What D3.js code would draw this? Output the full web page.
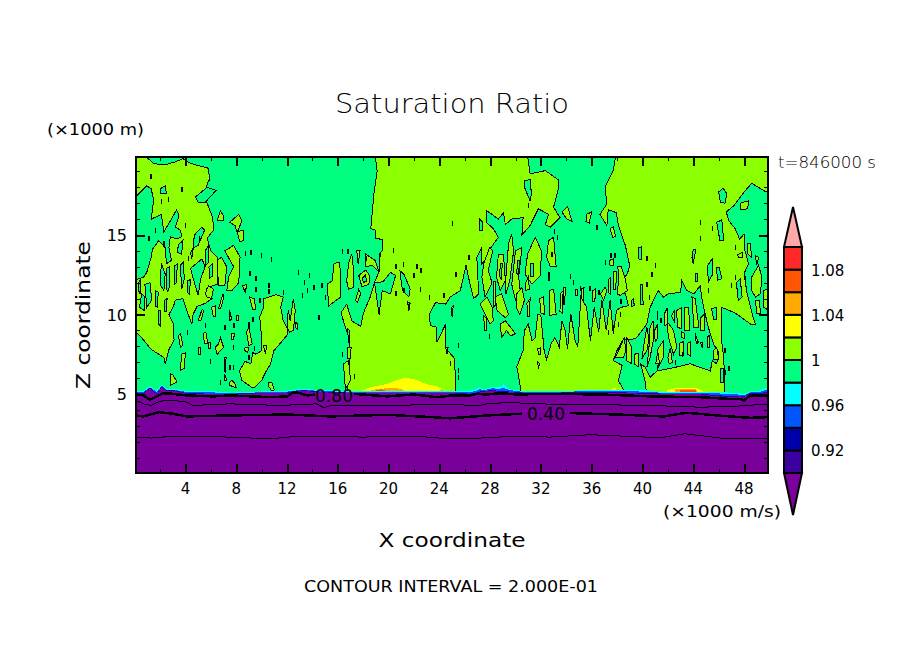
<!DOCTYPE html>
<html>
<head>
<meta charset="utf-8">
<script src="https://cdn.jsdelivr.net/npm/d3@7"></script>
<style>
  html, body { margin: 0; background: #fff; }
  text { font-family: "DejaVu Sans", sans-serif; fill: #000; }
</style>
</head>
<body>
<svg id="chart" width="904" height="654"></svg>
<script>
/* tick values */
const xMajor = [4, 8, 12, 16, 20, 24, 28, 32, 36, 40, 44, 48];
const xMinor = [2, 6, 10, 14, 18, 22, 26, 30, 34, 38, 42, 46];
const zMajor = [5, 10, 15];
const zMinor = [1, 2, 3, 4, 6, 7, 8, 9, 11, 12, 13, 14, 16, 17, 18, 19];

/* colour bar */
const levels = [0.90, 0.92, 0.94, 0.96, 0.98, 1.00, 1.02, 1.04, 1.06, 1.08, 1.10];
const levelColors = ['#3A00A0', '#0000AA', '#0055FF', '#00FFFF', '#00FF80', '#8CFF00', '#FFFF00', '#FFAA00', '#FF5500', '#FF2828'];
const levelLabels = [0.92, 0.96, 1.00, 1.04, 1.08];

/* saturated (1.00-1.02) regions, [x, z] */
const limeLeft = [[-1,21],[1,21],[1,19.85],[1.5,19.5],[2.3,19.4],[3.2,19.6],[3.8,19.8],[4.4,19.5],[5.8,19.2],[5.9,18.5],[5.7,18.2],[5.6,17.2],[5.9,16.6],[6.15,16.1],[6.2,15.3],[5.7,14.8],[6,14],[6.5,13.6],[6.5,11.9],[5.7,11.7],[5.6,11.3],[6.1,11],[5.55,10.7],[4.9,10.5],[4.6,10],[4.5,9.4],[4.1,10.25],[3.8,11],[3.2,10.9],[3.05,10.5],[2.7,10],[3.05,9.4],[3.1,8.4],[2.7,7.8],[2.4,6.9],[2.3,7.3],[1.3,7.8],[0.7,8.4],[0.1,8.9],[-1,8.9]];
const limeCenter = [[18.85,20.5],[19.1,19.05],[18.85,17.6],[18.7,16.3],[18.6,15.4],[18.95,15.3],[19,14.8],[19.55,14.7],[19.5,14],[19.25,13.8],[19.3,12.75],[18.95,12.15],[18.55,11.1],[18,10.05],[17.8,9.25],[17.1,9.6],[16.7,10.65],[16.25,10.1],[16.6,9.2],[16.9,8.55],[16.95,7.3],[16.8,5.65],[16.8,4.5],[25.3,4.5],[25.3,5.85],[25.15,7.3],[24.5,7.85],[24.5,9.4],[23.8,8.25],[23.8,9.2],[23.3,9.3],[23.2,10],[23.7,10.75],[24.5,10.65],[24.85,11.1],[25.65,11.5],[26.1,13.1],[26.35,12.15],[26.7,11],[27.1,11.3],[26.95,13.6],[27.35,14.2],[27.35,13.2],[27.6,13.4],[28.05,14.2],[28.65,14.85],[28.25,15.4],[27.7,15.8],[27.7,16.55],[28.65,16],[29.05,16.4],[29.2,15.65],[29.7,16],[30.6,16.1],[30.5,15],[31.15,15.6],[31.8,16.65],[32.6,16.3],[32.35,15.65],[32.75,15.5],[33.5,16.1],[33,16.75],[33.4,18],[33.4,18.45],[32.35,19.05],[31.15,18.85],[30.85,20.5]];
const limeRight = [[38,20.5],[51,20.5],[51,17.7],[49.65,17.75],[48.6,18.25],[48,17.7],[47.2,16.85],[46.6,16.45],[46.8,15.9],[47.3,15.4],[47.65,14.75],[48,15.05],[48.05,14.1],[48.35,13.2],[48,12.55],[48.25,11.3],[48.65,10],[48.9,9.4],[48.6,9.35],[47.3,10.1],[46.25,10.45],[46.2,8.55],[46.4,7.3],[46.5,5.3],[46.5,4.5],[30.4,4.5],[30.35,5.65],[30.1,6.7],[30.6,7.75],[30.7,9],[31,9.4],[31.3,8.35],[31.55,8.55],[31.75,10],[32,9.95],[32.25,7.75],[32.45,7.15],[32.8,8.15],[33.1,8.55],[33.45,7.95],[33.65,9.6],[33.9,9],[34.1,7.85],[34.35,10.05],[34.7,8.35],[34.9,7.95],[35.15,11.1],[35.6,10.45],[35.9,8.35],[36.2,10.45],[36.55,8.9],[36.8,10.9],[37.15,9],[37.45,10.9],[37.7,8.8],[37.95,10.25],[38.3,10.45],[38.9,10.55],[38.65,11.3],[38.1,11.9],[38.8,12.55],[39,13.05],[38.65,14.35],[38.1,15.6],[37.95,16.4],[37.3,16.6],[37.2,15.6],[36.65,16.3],[37.2,16.95],[37.05,18],[37.7,19.05]];

/* unsaturated pockets inside those regions */
const greenPockets = [
  [[-1,17.1],[0.2,17.5],[0.95,18.1],[1.3,17.9],[1.5,17.2],[1.3,16],[2.1,16.3],[2.3,15.2],[2.9,16],[3.3,16.6],[3.5,16.2],[3.2,15.5],[3.6,15.3],[3.7,14.9],[3.3,14.75],[2.8,14.9],[2.7,14.2],[2.9,13.4],[2.5,13.2],[2.4,14.2],[1.9,14.65],[1.4,14.1],[1.3,13.6],[0.95,12.65],[0.7,12.35],[0.15,12.2],[-1,12.2]],
  [[4.8,17.4],[5.7,18],[6.4,17.8],[5.55,17.05],[5,17.05]],
  [[2,17.9],[2.4,18.1],[2.5,17.6],[2.05,17.6]],
  [[4.7,15],[5.3,15.5],[5.5,15.3],[5,14.35],[4.6,14.2]],
  [[3.45,14.4],[3.8,14.65],[3.7,13.8],[3.35,13.9]],
  [[4.4,12.9],[5.3,13.5],[5.55,13],[5.2,12.25],[5,11.2],[4.7,12]],
  [[2.1,13.2],[2.4,12.55],[2.3,11.5],[2,11.9]],
  [[1.6,11.5],[1.85,11.4],[1.8,10.45],[1.6,10.55]],
  [[0.8,11.9],[1.2,12],[1.35,10.9],[0.95,10.45]],
  [[0.37,10.45],[0.55,11.3],[0.8,11.1],[0.75,10.25]],
  [[1.85,10.25],[2.05,10.25],[2,9.3],[1.85,9.4]],
  [[0.3,12],[0.45,12.2],[0.5,11.3],[0.35,11.3]],
  [[2.5,12.9],[2.75,13],[2.7,11.6],[2.55,11.4]],
  [[3.15,13.05],[3.35,13.2],[3.3,12],[3.15,11.9]],
  [[2.35,10.9],[2.55,11],[2.5,10.2],[2.35,10.2]],
  [[3.6,13.1],[3.85,13.3],[3.9,12.2],[3.7,11.6]],
  [[4.15,12.1],[4.4,12.2],[4.3,11.3],[4.15,11.4]],
  [[5.55,14],[5.8,14.3],[5.85,13.3],[5.6,13.1]],
  [[5.85,13],[6.1,13.2],[6.1,12.4],[5.9,12.3]],
  [[4.4,13.9],[4.6,14.1],[4.5,13.5]],
  [[18.9,12],[19.25,10],[19.5,11.5],[20.15,11.3],[20.55,12.45],[20.15,12.65],[19.6,12.1],[19.25,12]],
  [[20.9,12.75],[21.2,12.55],[21.7,11.6],[21.6,11.1],[21.1,11.5],[20.95,12.3]],
  [[21.5,10.8],[21.7,10.7],[21.6,10.25]],
  [[16.75,9.1],[16.9,9],[16.9,8.1]],
  [[27.2,16],[27.4,15.8],[27.4,15.3],[27.2,15.3]],
  [[38.55,4.5],[38.55,5.2],[38.1,5.85],[38.4,6.8],[37.7,7.1],[38,7.75],[38.5,8.45],[39.25,8.45],[39.55,8.55],[40.35,9.4],[40.6,10.45],[41.25,11.5],[41.65,11.1],[42.05,11.3],[43,11.4],[43.1,12.15],[43.5,11.5],[44.05,11.3],[44.55,11.8],[44.7,10.9],[45.15,9.3],[45.6,8.15],[46,7.6],[45.85,6.9],[45.5,7.1],[45.35,6.45],[43.75,6.9],[42.7,6.7],[41.15,6.45],[40.6,6.05],[40.2,6.7],[39.85,6.9],[40.2,5.85],[40.3,5.2],[40.3,4.5]],
  [[30.7,18.4],[31.15,18.5],[31.25,17.6],[31.15,17.15],[30.75,17.9]],
  [[46,17.7],[46.35,17.95],[46.65,17.6],[46.5,17],[46.15,17.05]],
  [[45.85,15.8],[46.25,15.95],[46.4,14.65],[46.1,14.65]],
  [[39.7,14.2],[39.9,14.25],[39.9,13.45],[39.7,13.5]],
  [[45.1,13.05],[45.5,13.5],[45.55,12.55],[45.2,12.05]],
  [[45.85,12.95],[46.05,12.95],[46.25,12.25],[45.9,12.15]],
  [[44,14.1],[44.2,14.1],[44,13.2],[43.9,13.6]],
  [[44.15,12.55],[44.3,12.55],[44.3,12.05],[44.15,12.05]],
  [[39.85,11.9],[40,11.9],[40.05,10.65],[39.85,10.65]],
  [[39.15,10.9],[39.3,11],[39.35,10.55],[39.15,10.5]],
  [[47.4,12],[47.7,12.25],[47.85,11.1],[47.55,10.9]],
  [[46.15,6.6],[46.35,6.6],[46.35,5.75],[46.15,5.75]],
  [[45.45,10.35],[45.8,10.45],[45.8,9.7],[45.6,9.7]]
];

/* saturated islands in the unsaturated air */
const limeIslands = [
  [[6.5,15.9],[6.75,16.5],[7,16.2],[7,15.9]],
  [[7.5,15.8],[8.2,16.3],[8.45,15.9],[8.1,15.2],[8.55,15.3],[8.55,14.65],[8.3,14.55],[7.9,15.6]],
  [[6.5,13.4],[6.85,13.6],[7.25,13],[7.1,11.8],[6.6,11.8]],
  [[7.1,14],[7.8,14.35],[8.3,13.6],[8.2,12],[7.65,11.5],[7.25,11.5],[7.4,12.35],[7.8,13]],
  [[5.55,11.3],[5.8,11.8],[6.2,11.6],[6.05,11],[5.7,11.1]],
  [[9.05,11.1],[9.4,11],[9.55,10.35],[9.3,10.3]],
  [[8.5,11.8],[8.85,11.9],[8.7,11.4]],
  [[6.6,10.35],[6.95,11.3],[7,11],[6.75,10.35]],
  [[6.05,10.45],[6.35,10.55],[6.4,9.85],[6.2,9.85]],
  [[5,9.6],[5.3,10.3],[5.45,10.25],[5.2,9.6]],
  [[3.45,8.65],[3.6,8.8],[3.8,8.05],[3.6,7.95]],
  [[5,7.95],[5.2,7.95],[5.2,7.5],[5.05,7.5]],
  [[5.4,8.8],[5.6,8.9],[5.75,8.2],[5.5,8.15]],
  [[6.35,7.95],[6.6,8.15],[6.75,8.55],[7,7.95],[6.5,7.5]],
  [[8.8,8.9],[9,9.2],[9.25,8.15],[9,8.05]],
  [[10.15,11],[10.6,11.1],[11.15,11.25],[11.7,11.1],[11.5,10.45],[11.7,9.6],[12.05,9.1],[12,8.7],[10.95,7.7],[10.7,6.9],[10.3,6.35],[10,5.85],[9.5,5.45],[9.25,5.4],[8.45,5.85],[8.25,6.45],[8.7,7.05],[9.15,6.9],[9.3,7.6],[9.55,7.5],[9.95,7.7],[10,8.55],[9.9,9.4],[9.85,9.85],[10.15,10.45]],
  [[12.05,9.85],[12.1,10.3],[12.25,9.6],[12.5,11],[12.65,10.25],[12.5,9],[12.2,8.9],[12,9.2]],
  [[12.7,9.5],[12.85,9.4],[12.8,9.1],[12.65,9.2]],
  [[10.55,5.75],[10.8,5.75],[11,5.25],[10.8,5.2],[10.5,5.55]],
  [[2.85,6.25],[3,6.2],[3.35,5.75],[2.85,5.55]],
  [[7.5,5.75],[7.65,5.85],[7.9,5.65],[8,5.4],[7.75,5.45],[7.5,5.55]],
  [[7.05,7.3],[7.2,7.3],[7.15,6.35],[7.05,6.45]],
  [[7.1,6.25],[7.25,5.85],[7.05,5.85]],
  [[3.7,7.5],[4,7.6],[3.9,6.6],[3.6,6.5]],
  [[8.7,7.95],[9,7.95],[8.9,7.6],[8.65,7.75]],
  [[5.8,8.25],[6,8.25],[5.95,7.85],[5.85,7.85]],
  [[10.15,8.05],[10.4,8.05],[10.3,7.5]],
  [[7.65,8.8],[7.85,8.8],[7.8,8.45],[7.65,8.45]],
  [[8,9.95],[8.2,9.95],[8.15,9.65],[8,9.65]],
  [[7.45,10.25],[7.65,9.7],[7.45,9.6]],
  [[15.7,13.2],[16.1,13.3],[16.25,12.55],[16.25,11.1],[15.7,10.8],[15.3,10.55],[15.15,11.9],[15.55,12.1]],
  [[16.7,12.1],[16.85,13.2],[17.1,13.8],[17.25,12.75],[17.25,11.7],[16.85,11.6]],
  [[17.5,14],[17.75,14],[17.6,13.2],[17.55,13.5]],
  [[17.65,12.45],[18.2,12.8],[18.5,12.45],[18.45,11.9],[17.9,11.75]],
  [[17.4,10.9],[17.65,11.6],[17.8,11.3],[17.55,10.75]],
  [[18.2,13.8],[18.55,13.6],[18.95,13.4],[19.25,12.65],[18.7,13.1],[18.2,13]],
  [[16.45,6.9],[16.85,7.1],[17,5.85],[16.6,5.3]],
  [[16.75,7.95],[17.05,7.95],[17,7.25],[16.75,7.25]],
  [[24.95,10.45],[25.1,10.55],[25,9.85]],
  [[24.5,7.95],[24.7,7.95],[24.6,7.5]],
  [[47.7,17],[48.35,17.15],[48.3,16.65],[47.75,16.6]],
  [[48.25,14.45],[48.5,14.45],[48.6,13.6],[48.3,13.8]],
  [[48.9,13.7],[49.15,13.6],[49,13.1]],
  [[48.6,12.35],[49.15,13.1],[49.4,12.35],[49.3,11.3],[48.9,11.1],[48.6,11.5]],
  [[48.9,10.9],[49.2,10.9],[49.3,10.05],[49,10.05]],
  [[49.55,11.5],[50.5,11.9],[50.5,10],[49.55,10.45]],
  [[47.5,13.75],[47.85,13.9],[47.85,13.6],[47.55,13.6]],
  [[27.5,13.2],[27.95,14.2],[28.2,14],[27.85,12.75],[28.15,12],[27.6,11.1],[27.35,12.35]],
  [[28.65,13.8],[29.05,13.8],[29.2,12.15],[28.8,11.5],[28.5,12.35]],
  [[29.45,14.45],[29.7,15.05],[29.85,14],[29.55,12.15],[29.25,11.3],[29.2,11.9]],
  [[30,14],[30.5,14.2],[30.25,12.35],[30.4,11.3],[30,10.9],[29.7,11.9]],
  [[30.95,13.8],[31.55,14.85],[32.05,14],[31.95,12.45],[31.3,11.9],[30.75,12.55]],
  [[32.6,14.65],[33,14.85],[33.2,13],[32.75,13],[32.45,13.6]],
  [[27.2,10.65],[27.75,11.1],[28.15,10.45],[28.25,9.6],[28,9.4],[27.45,10.25]],
  [[28.4,11.1],[28.9,11.3],[29.45,10],[29.2,9.8],[28.55,10.25]],
  [[28.8,9.4],[29.2,9.6],[30,8.8],[29.6,8.65],[29.3,9],[28.9,8.55]],
  [[27.5,9.9],[27.7,9.8],[27.75,9],[27.55,9]],
  [[30.1,11.3],[30.5,11.7],[30.7,10.9],[30.35,10],[30.05,10.45]],
  [[30.75,11.9],[31,12.35],[31.1,11.6],[30.8,11.5]],
  [[32.65,11.5],[33,11.6],[33.2,10],[32.7,9.95]],
  [[33.8,11.7],[33.95,11.7],[33.85,10.65],[33.75,10.65]],
  [[34.7,11.6],[34.9,11.6],[34.85,11.2],[34.7,11.2]],
  [[36.7,11.3],[37.05,11.7],[37.2,11.5],[36.95,10.9]],
  [[31.75,7.85],[32,7.9],[32,7.5],[31.8,7.5]],
  [[31.75,7],[31.9,6.9],[31.8,6.6]],
  [[33.65,16.45],[34.1,16.8],[34.45,15.85],[34.05,16]],
  [[35.6,16.3],[36,16.45],[35.8,15.75],[35.55,15.85]],
  [[37.45,15.4],[37.7,15.5],[37.9,14.9],[37.65,14.85]],
  [[37.4,13.4],[37.7,13.5],[37.7,13.1],[37.45,13.1]],
  [[38.05,13.05],[38.3,13.05],[38.65,12.25],[38.8,11.5],[38.25,11.2],[38,11.3],[38.15,12.25]],
  [[37.85,7.3],[38.25,7.95],[38.55,8.55],[38.7,7.75],[38.5,7.3]],
  [[38.75,8.55],[39.15,7.95],[39.15,6.9],[38.75,7.1]],
  [[39.35,7.5],[39.7,7.55],[39.7,6.7],[39.35,6.9]],
  [[40.1,8.05],[40.35,9.2],[40.5,8.45],[40.35,7.75],[39.95,7.2]],
  [[40.6,9.2],[40.85,9.6],[40.9,8.55],[40.6,7.3],[40.35,6.7],[40.5,7.75]],
  [[41.15,7.75],[41.65,8.35],[41.65,7.3],[41.25,6.7]],
  [[41.9,9.6],[42.45,9],[42.7,7.95],[42.45,7.5],[42.05,8.55]],
  [[42.7,10.25],[43.1,10.45],[43.1,9.1],[42.75,9.2]],
  [[43.35,10.45],[43.65,10.45],[43.7,9],[43.35,9]],
  [[43.9,11.1],[44.15,11],[44.45,9.2],[44.05,9.2]],
  [[43.1,8.9],[43.35,8.8],[43.35,8.45],[43.1,8.55]],
  [[44.15,8.8],[44.4,8.25],[44.25,8.15]],
  [[44.55,8.25],[44.75,8.25],[44.7,7.95]],
  [[45.6,7.75],[45.85,7.95],[46,7.2],[45.6,7.2]],
  [[28.25,12.1],[28.4,12.1],[28.45,10.6],[28.3,10.5]],
  [[30.9,10.7],[31.15,11],[31.1,9.9],[30.95,9.9]],
  [[31.9,11],[32.2,11.1],[32.3,10],[32,10.1]],
  [[33.55,11.3],[33.75,11.5],[33.7,10.1],[33.5,10.2]],
  [[35.2,11.6],[35.4,11.7],[35.35,10.9],[35.2,11]],
  [[36.1,11.5],[36.3,11.6],[36.25,10.8],[36.1,10.8]],
  [[37.3,12.2],[37.5,12.3],[37.45,11.3],[37.3,11.4]],
  [[37.75,12.7],[37.95,12.7],[37.9,11.6],[37.75,11.6]],
  [[40.95,9],[41.2,9.4],[41.2,8.5],[41,8.3]],
  [[41.7,10],[41.95,10.4],[42,9.4],[41.75,9.3]],
  [[42.95,8.2],[43.25,8.3],[43.2,7.4],[42.95,7.4]],
  [[43.55,8.2],[43.8,8.3],[43.75,7.4],[43.55,7.5]],
  [[41.05,6.9],[41.2,7.7],[41.35,6.9]],
  [[42,7.3],[42.2,7.9],[42.35,7],[42.1,6.9]],
  [[44.6,9.8],[44.85,10],[44.85,9],[44.6,9]],
  [[45.1,8.6],[45.3,8.7],[45.3,7.9],[45.1,7.9]],
  [[42.3,9.9],[42.55,10.3],[42.55,9.5]]
];
const greenInner = [
  [[17.95,12.3],[18.2,12.5],[18.25,12.1],[18,12]],
  [[31.15,13.2],[31.4,13.2],[31.4,12.4],[31.15,12.4]],
  [[30.15,13.4],[30.3,13.4],[30.25,12.4],[30.1,12.6]],
  [[28.8,13.2],[28.95,13.2],[28.9,12.2],[28.75,12.4]]
];

/* tiny closed contours */
const specks = [[1.25,18.7],[3.7,17.85],[4,15.6],[2.1,17.1],[2.65,17.25],[1.6,15.3],[1.1,14.8],[2.3,14.5],[3.6,12.8],[4.2,13.55],[5.1,14.8],[8.7,13.85],[9.15,13.9],[9.95,13.7],[10.75,13.45],[9.05,12.6],[9.55,12.25],[9.55,11.55],[9.85,10.9],[10.55,11.8],[10.55,11.45],[11.7,11.4],[12.9,12.65],[13.75,12.45],[13.35,12],[14.1,11.7],[13.6,11.5],[14.75,11.85],[13.2,11.2],[15,11.05],[14.5,9.85],[9,9.4],[9.3,9.7],[7.5,10],[7.8,9.3],[7.1,9.2],[4.15,8.9],[5.55,9.3],[7.75,7.95],[7.75,6.7],[7.5,6.7],[5.95,7.05],[6.75,5.7],[9,7.3],[9.4,7.85],[16.35,7.5],[17.3,6.1],[16.35,14],[16.8,14],[18.2,13.5],[20.55,13],[21.15,13.15],[22.2,13],[22.55,12.75],[22,12.45],[21.2,11.5],[22.5,11.55],[23.2,11.1],[25,15.7],[25.3,12.5],[20.35,14.05],[19.35,13.8],[24.35,11.2],[20.55,11.3],[26.3,13.6],[25.5,8.05],[25.5,6.5],[33.05,15.25],[33.3,14.85],[36.4,15.5],[37.5,13.7],[37.8,13.7],[37.05,13.3],[40.35,13.55],[41,13.1],[40.75,12.5],[40.35,11.9],[40.55,11.1],[41.15,10.05],[38.25,10],[38.3,10.85],[37.7,9.2],[37.3,8.85],[38.1,9.4],[44.55,15.8],[45.5,15.4],[44.55,14.8],[47.3,14.2],[47,11.85],[47.3,12.35],[48.1,12.25],[45.2,11.5],[46.5,6.35],[46.8,6.6],[46.5,7.75],[43.15,7.5],[42.6,7],[41.15,6.7],[41.45,9.6],[41.15,9.8],[34.55,12],[35.1,11.65],[35.85,11.65],[36.55,11.4],[34.3,12.4],[32.6,12.55],[32.6,12.25],[32.85,13.8],[31,16.85],[27.95,8.6],[24.85,6.9],[25.5,6.05]];

/* supersaturated humps just above the cloud base */
const yellowPatches = [
  [[17.25,5],[18.6,5.43],[19.9,5.64],[20.7,5.89],[21.2,6.01],[22,5.95],[22.9,5.64],[23.8,5.47],[25,5]],
  [[41.9,5],[41.9,5.22],[42.7,5.39],[44.2,5.39],[44.8,5.18],[44.8,5]],
  [[37.6,5],[37.65,5.35],[37.9,5.35],[38,5]]
];
const orangePatches = [
  [[17.5,5],[19,5.3],[20.5,5.4],[21.2,5.25],[21.3,5]],
  [[23.6,5],[24.2,5.3],[24.8,5]],
  [[42.5,5],[42.6,5.3],[44.2,5.33],[44.4,5]],
  [[37.7,5],[37.75,5.25],[37.85,5.25],[37.9,5]]
];
const redPatches = [
  [[18,5],[19.4,5.3],[20.7,5]],
  [[42.9,5],[43,5.28],[44.2,5.28],[44.25,5]]
];

/* layered band along the 5 km drop in saturation */
const surfaceX = [0,0.7,1.2,1.75,2.15,2.5,3.05,4.1,6.2,7.5,10.7,12,13.3,14.35,16.7,24.85,26.4,26.95,27.2,27.5,28.15,28.8,29.05,29.45,30.6,32.7,34.85,38.5,40.6,41.9,44.55,46.65,47.7,48,48.5,49.15,50];
const cyanTop = [5.18,5.22,5.47,5.22,5.6,5.33,5.33,5.18,5.18,5.08,5.18,5.22,5.33,5.26,5.18,5.18,5.18,5.33,5.43,5.26,5.47,5.43,5.6,5.33,5.18,5.18,5.22,5.26,5.22,5.1,5.12,5.1,5.05,5,5.18,5.22,5.43];
const blueTop = [5.12,5.15,5.42,5.14,5.54,5.28,5.28,5.12,5.1,5.05,5.12,5.15,5.28,5.2,5.13,5.13,5.1,5.22,5.3,5.22,5.36,5.32,5.4,5.26,5.13,5.13,5.16,5.18,5.14,5.05,5.06,5.02,4.96,4.92,5.12,5.12,5.32];
const navyTop = [5.03,5.08,5.38,5.03,5.48,5.24,5.25,5.05,5.02,5.02,5.08,5.09,5.24,5.16,5.09,5.09,5.02,5.1,5.16,5.18,5.25,5.18,5.18,5.16,5.09,5.09,5.1,5.1,5.06,5.01,5.01,4.88,4.9,4.85,5.08,5.03,5.2];
const purpleTop = [4.97,5.03,5.33,4.97,5.43,5.18,5.22,5.01,4.97,5,5.05,5.05,5.2,5.12,5.05,5.05,4.97,5.05,5.1,5.15,5.2,5.12,5.12,5.12,5.05,5.05,5.05,5.05,5.01,4.98,4.97,4.8,4.85,4.8,5.05,4.97,5.12];

/* low level contour lines */
const contour080 = [
  [[0.1,4.97],[0.7,4.91],[1.2,4.64],[1.75,4.85],[2.25,5.05],[3,5.01],[4.1,4.91],[6.2,4.85],[7.5,4.91],[10.7,4.8],[12,4.85],[12.5,5.12],[13,5.05],[13.6,4.91],[14.2,4.97]],
  [[17.25,5.01],[19.9,4.85],[22,4.97],[23.8,4.8],[24.85,4.9],[26.4,4.91],[26.95,5.01],[27.75,4.97],[28.8,5.05],[30.1,4.97],[32.7,5.01],[36.7,4.97],[40.6,4.85],[44.55,4.8],[46.65,4.7],[47.7,4.7],[48,4.6],[48.5,4.91],[50,4.91]]
];
const contour060 = [[[0.1,4.6],[0.7,4.38],[1.3,4.28],[2,4.55],[3,4.6],[4.1,4.49],[4.6,4.28],[7.5,4.38],[11.45,4.28],[14.35,4.38],[14.9,4.13],[15.4,4.28],[18,4.28],[24.85,4.33],[27.2,4.28],[27.75,4.38],[28.25,4.38],[29.3,4.49],[31.4,4.38],[35.4,4.34],[40.6,4.28],[44.55,4.17],[47.2,4.22],[50,4.38]]];
const contour040 = [
  [[0.1,3.65],[0.7,3.59],[1.9,3.86],[3,3.76],[4.1,3.59],[7.5,3.65],[12,3.71],[15.4,3.59],[19.9,3.69],[23.3,3.55],[24.85,3.47],[27.75,3.65],[30.5,3.76]],
  [[34.3,3.8],[38,3.71],[41.65,3.59],[43.5,3.82],[45.9,3.65],[48.5,3.5],[50,3.55]]
];
const contour020 = [[[0.1,2.29],[1.3,2.23],[2.8,2.33],[4.35,2.33],[7.5,2.29],[10.7,2.18],[12.8,2.35],[15.4,2.33],[18,2.29],[22,2.35],[24.85,2.18],[27.2,2.23],[30.1,2.35],[32.7,2.29],[35.9,2.44],[41.4,2.25],[43.35,2.5],[46.65,2.18],[50,2.18]]];
const contourLabels = [['0.80', 15.7, 4.9], ['0.40', 32.4, 3.78]];

const LIME = '#8CFF00', GREEN = '#00FF80', PURPLE = '#7A009C';

const svg = d3.select('#chart');
const box = { left: 136, right: 768, top: 157, bottom: 473 };

const xScale = d3.scaleLinear().domain([0, 50]).range([134.7, 769.4]);
const zScale = d3.scaleLinear().domain([0, 20]).range([473.5, 155.5]);
const barScale = d3.scaleLinear().domain([0.90, 1.10]).range([473, 247]);

const linePath = d3.line().x(d => xScale(d[0])).y(d => zScale(d[1]));
const closedPath = pts => linePath(pts) + 'Z';

svg.append('clipPath').attr('id', 'plot-clip').append('rect')
  .attr('x', box.left).attr('y', box.top)
  .attr('width', box.right - box.left).attr('height', box.bottom - box.top);

const plot = svg.append('g').attr('clip-path', 'url(#plot-clip)').attr('shape-rendering', 'crispEdges');

plot.append('rect')
  .attr('x', box.left).attr('y', box.top)
  .attr('width', box.right - box.left).attr('height', box.bottom - box.top)
  .attr('fill', GREEN);

/* Filled regions with their contour outline, back to front */
function drawRegions(list, fill, stroke) {
  plot.append('g').selectAll('path').data(list).enter().append('path')
    .attr('d', closedPath)
    .attr('fill', fill)
    .attr('stroke', stroke)
    .attr('stroke-width', 1);
}
drawRegions([limeLeft, limeCenter, limeRight], LIME, '#000');
drawRegions(greenPockets, GREEN, '#000');
drawRegions(limeIslands, LIME, '#000');
drawRegions(greenInner, GREEN, '#000');

plot.append('g').selectAll('rect').data(specks).enter().append('rect')
  .attr('x', d => xScale(d[0]) - 0.5)
  .attr('y', d => zScale(d[1] + 0.15))
  .attr('width', 1.5)
  .attr('height', 5)
  .attr('fill', '#000');

drawRegions(yellowPatches, '#FFFF00', 'none');
drawRegions(orangePatches, '#FFAA00', 'none');
drawRegions(redPatches, '#FF5500', 'none');

/* Stacked band, each colour filled down to the ground */
const band = d3.area()
  .x(d => xScale(d[0]))
  .y0(zScale(0))
  .y1(d => zScale(d[1]));
[[cyanTop, '#00FFFF'], [blueTop, '#0055FF'], [navyTop, '#2A00A8'], [purpleTop, PURPLE]].forEach(([tops, color]) => {
  plot.append('path')
    .attr('d', band(surfaceX.map((x, i) => [x, tops[i]])))
    .attr('fill', color);
});

/* Contours below the base: thick every other level */
[[contour080, 2.5], [contour060, 1], [contour040, 2.5], [contour020, 1]].forEach(([parts, w]) => {
  plot.append('g').selectAll('path').data(parts).enter().append('path')
    .attr('d', linePath)
    .attr('fill', 'none')
    .attr('stroke', '#000')
    .attr('stroke-width', w);
});

svg.append('g').selectAll('text').data(contourLabels).enter().append('text')
  .attr('x', d => xScale(d[1]))
  .attr('y', d => zScale(d[2]) + 6.5)
  .attr('text-anchor', 'middle')
  .attr('font-size', 18)
  .attr('textLength', 38)
  .attr('lengthAdjust', 'spacingAndGlyphs')
  .text(d => d[0]);

/* Axes: all ticks point inwards, on all four sides */
function drawAxis(maker, scale, values, size, pos) {
  const axis = maker(scale).tickValues(values).tickSize(-size).tickFormat('');
  const g = svg.append('g').attr('transform', pos).attr('shape-rendering', 'crispEdges').call(axis);
  g.select('.domain').remove();
  g.selectAll('line').attr('stroke', '#000').attr('stroke-width', 1);
  return g;
}
const atBottom = `translate(0,${box.bottom})`, atTop = `translate(0,${box.top})`;
const atLeft = `translate(${box.left},0)`, atRight = `translate(${box.right},0)`;
drawAxis(d3.axisBottom, xScale, xMajor, 9, atBottom).selectAll('line').attr('stroke-width', 2);
drawAxis(d3.axisBottom, xScale, xMinor, 4, atBottom);
drawAxis(d3.axisTop, xScale, xMajor, 9, atTop).selectAll('line').attr('stroke-width', 2);
drawAxis(d3.axisTop, xScale, xMinor, 4, atTop);
drawAxis(d3.axisLeft, zScale, zMajor, 9, atLeft).selectAll('line').attr('stroke-width', 2);
drawAxis(d3.axisLeft, zScale, zMinor, 4, atLeft);
drawAxis(d3.axisRight, zScale, zMajor, 9, atRight).selectAll('line').attr('stroke-width', 2);
drawAxis(d3.axisRight, zScale, zMinor, 4, atRight);

svg.append('rect')
  .attr('x', box.left).attr('y', box.top)
  .attr('width', box.right - box.left).attr('height', box.bottom - box.top)
  .attr('fill', 'none').attr('stroke', '#000').attr('stroke-width', 2.5)
  .attr('shape-rendering', 'crispEdges');

svg.append('g').selectAll('text').data(xMajor).enter().append('text')
  .attr('x', d => xScale(d)).attr('y', 494)
  .attr('text-anchor', 'middle').attr('font-size', 15).text(d => d);
svg.append('g').selectAll('text').data(zMajor).enter().append('text')
  .attr('x', 127).attr('y', d => zScale(d) + 6)
  .attr('text-anchor', 'end').attr('font-size', 16).text(d => d);

/* Colour bar */
const barX = 784, barW = 18, barMid = barX + barW / 2;
const barG = svg.append('g');
barG.selectAll('rect').data(levelColors).enter().append('rect')
  .attr('x', barX)
  .attr('y', (d, i) => barScale(levels[i + 1]))
  .attr('width', barW)
  .attr('height', (d, i) => barScale(levels[i]) - barScale(levels[i + 1]))
  .attr('fill', d => d)
  .attr('stroke', '#000').attr('stroke-width', 2);
barG.append('path')
  .attr('d', `M${barX},${barScale(1.10)}L${barMid},207L${barX + barW},${barScale(1.10)}Z`)
  .attr('fill', '#FFA8A8').attr('stroke', '#000').attr('stroke-width', 2);
barG.append('path')
  .attr('d', `M${barX},${barScale(0.90)}L${barMid},515L${barX + barW},${barScale(0.90)}Z`)
  .attr('fill', PURPLE).attr('stroke', '#000').attr('stroke-width', 2);
barG.selectAll('text').data(levelLabels).enter().append('text')
  .attr('x', 811).attr('y', d => barScale(d) + 6)
  .attr('font-size', 15)
  .text(d => d === 1 ? '1' : d3.format('.2f')(d));

/* Titles and notes */
function label(txt, x, y, size, len, anchor) {
  return svg.append('text')
    .attr('x', x).attr('y', y)
    .attr('font-size', size)
    .attr('text-anchor', anchor || 'start')
    .attr('textLength', len)
    .attr('lengthAdjust', 'spacingAndGlyphs')
    .text(txt);
}
label('Saturation Ratio', 452, 113, 27, 234, 'middle').attr('font-weight', 200);
label('(\u00d71000 m)', 47, 135, 15, 97);
label('t=846000 s', 778, 168, 15, 98).attr('font-weight', 200);
label('X coordinate', 452, 547, 20, 147, 'middle');
label('(\u00d71000 m/s)', 663, 517, 15, 118);
label('CONTOUR INTERVAL = 2.000E-01', 451, 592, 16, 294, 'middle');
label('Z coordinate', 0, 0, 20, 148, 'middle')
  .attr('transform', 'translate(90,315) rotate(-90)');
</script>
</body>
</html>
